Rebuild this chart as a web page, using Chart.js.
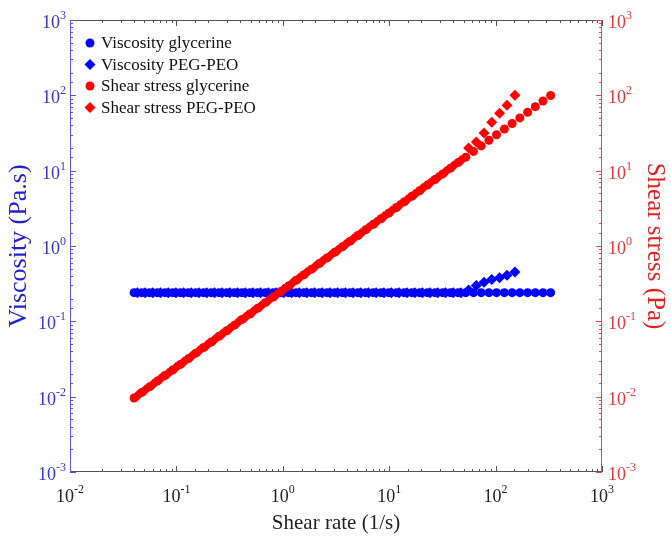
<!DOCTYPE html>
<html>
<head>
<meta charset="utf-8">
<script src="https://cdn.jsdelivr.net/npm/chart.js@4/dist/chart.umd.min.js"></script>
<style>
  html, body { margin: 0; padding: 0; background: #fff; }
</style>
</head>
<body>
<canvas id="chart" width="671" height="536"></canvas>
<script>
// glycerine: shear rate (1/s), viscosity (Pa.s), shear stress (Pa)
const shearRateGly = [0.0400, 0.0473, 0.0559, 0.0660, 0.0780, 0.0922, 0.109, 0.129, 0.152, 0.180,
  0.212, 0.251, 0.297, 0.351, 0.414, 0.490, 0.579, 0.684, 0.808, 0.955,
  1.13, 1.33, 1.58, 1.86, 2.20, 2.60, 3.07, 3.63, 4.29, 5.07,
  5.99, 7.08, 8.37, 9.89, 11.7, 13.8, 16.3, 19.3, 22.8, 26.9,
  31.8, 37.6, 44.4, 52.5, 62.0, 73.3, 86.6, 102, 121, 143,
  169, 200, 236, 279, 329];
const viscosityGly = [0.24, 0.24, 0.24, 0.24, 0.24, 0.24, 0.24, 0.24, 0.24, 0.24,
  0.24, 0.24, 0.24, 0.24, 0.24, 0.24, 0.24, 0.24, 0.24, 0.24,
  0.24, 0.24, 0.24, 0.24, 0.24, 0.24, 0.24, 0.24, 0.24, 0.24,
  0.24, 0.24, 0.24, 0.24, 0.24, 0.24, 0.24, 0.24, 0.24, 0.24,
  0.24, 0.24, 0.24, 0.24, 0.24, 0.24, 0.24, 0.24, 0.24, 0.24,
  0.24, 0.24, 0.24, 0.24, 0.24];
const stressGly = [0.0096, 0.0114, 0.0135, 0.0161, 0.0191, 0.0226, 0.0268, 0.0318, 0.0378, 0.0449,
  0.0532, 0.0632, 0.0750, 0.0890, 0.106, 0.125, 0.149, 0.177, 0.210, 0.249,
  0.295, 0.350, 0.416, 0.493, 0.585, 0.695, 0.824, 0.978, 1.16, 1.38,
  1.64, 1.94, 2.30, 2.73, 3.24, 3.85, 4.57, 5.42, 6.43, 7.64,
  9.06, 10.8, 12.8, 15.1, 18.0, 21.3, 25.3, 30.0, 35.7, 42.3,
  50.2, 59.6, 70.7, 84.0, 99.6];

// PEG-PEO
const shearRatePeg = [0.0430, 0.0508, 0.0600, 0.0709, 0.0838, 0.0990, 0.117, 0.138, 0.163, 0.193,
  0.228, 0.269, 0.318, 0.376, 0.444, 0.524, 0.619, 0.732, 0.864, 1.02,
  1.21, 1.43, 1.68, 1.99, 2.35, 2.78, 3.28, 3.88, 4.58, 5.41,
  6.39, 7.55, 8.92, 10.5, 12.4, 14.7, 17.4, 20.5, 24.2, 28.6,
  33.8, 40.0, 47.2, 55.8, 65.9, 77.9, 92.0, 109, 128, 152];
const viscosityPeg = [0.24, 0.24, 0.24, 0.24, 0.24, 0.24, 0.24, 0.24, 0.24, 0.24,
  0.24, 0.24, 0.24, 0.24, 0.24, 0.24, 0.24, 0.24, 0.24, 0.24,
  0.24, 0.24, 0.24, 0.24, 0.24, 0.24, 0.24, 0.24, 0.24, 0.24,
  0.24, 0.24, 0.24, 0.24, 0.24, 0.24, 0.24, 0.24, 0.24, 0.24,
  0.24, 0.24, 0.24, 0.26, 0.30, 0.33, 0.36, 0.38, 0.41, 0.45];
const stressPeg = [0.0103, 0.0123, 0.0145, 0.0173, 0.0205, 0.0243, 0.0288, 0.0342, 0.0406, 0.0481,
  0.0571, 0.0678, 0.0804, 0.0954, 0.113, 0.134, 0.159, 0.189, 0.224, 0.266,
  0.316, 0.375, 0.445, 0.528, 0.626, 0.743, 0.881, 1.05, 1.24, 1.47,
  1.75, 2.07, 2.46, 2.92, 3.46, 4.11, 4.87, 5.78, 6.86, 8.14,
  9.66, 11.5, 13.6, 20.0, 24.0, 31.6, 44.0, 58.0, 74.0, 100];

const xTickPowers = [-2, -1, 0, 1, 2, 3];
const yTickPowers = [-3, -2, -1, 0, 1, 2, 3];

const BLUE = "#0000ff";
const RED = "#ff0000";
const SERIF = '"Liberation Serif", "Times New Roman", serif';

const toPoints = (xs, ys) => xs.map((x, i) => ({ x: x, y: ys[i] }));

// draws 10^p with a raised exponent
function drawPow(ctx, p, x, y, align, color) {
  ctx.font = "18px " + SERIF;
  const wb = ctx.measureText("10").width;
  ctx.font = "12px " + SERIF;
  const exp = String(p);
  const we = ctx.measureText(exp).width;
  const w = wb + we;
  let sx = x;
  if (align === "center") sx = x - w / 2;
  if (align === "right") sx = x - w;
  ctx.fillStyle = color;
  ctx.textAlign = "left";
  ctx.textBaseline = "alphabetic";
  ctx.font = "18px " + SERIF;
  ctx.fillText("10", sx, y);
  ctx.font = "12px " + SERIF;
  ctx.fillText(exp, sx + wb, y - 9);
}

const isPow = (v) => Math.abs(Math.log10(v) - Math.round(Math.log10(v))) < 1e-6;

const framePlugin = {
  id: "frame",
  afterDraw(chart) {
    const ctx = chart.ctx;
    const { left, right, top, bottom } = chart.chartArea;
    const sx = chart.scales.x, sy = chart.scales.y, sy2 = chart.scales.y2;
    ctx.save();
    ctx.lineWidth = 1;

    // top and bottom lines + ticks
    ctx.strokeStyle = "#555";
    ctx.beginPath();
    ctx.moveTo(left, top + 0.5); ctx.lineTo(right, top + 0.5);
    ctx.moveTo(left, bottom - 0.5); ctx.lineTo(right, bottom - 0.5);
    sx.ticks.forEach((t) => {
      const px = Math.round(sx.getPixelForValue(t.value)) + 0.5;
      const len = isPow(t.value) ? 6 : 3;
      ctx.moveTo(px, bottom); ctx.lineTo(px, bottom - len);
      ctx.moveTo(px, top); ctx.lineTo(px, top + len);
    });
    ctx.stroke();

    // left axis
    ctx.strokeStyle = "#5555e8";
    ctx.beginPath();
    ctx.moveTo(left + 0.5, top); ctx.lineTo(left + 0.5, bottom);
    sy.ticks.forEach((t) => {
      const py = Math.round(sy.getPixelForValue(t.value)) + 0.5;
      const len = isPow(t.value) ? 6 : 3;
      ctx.moveTo(left, py); ctx.lineTo(left + len, py);
    });
    ctx.stroke();

    // right axis
    ctx.strokeStyle = "#ee4444";
    ctx.beginPath();
    ctx.moveTo(right - 0.5, top); ctx.lineTo(right - 0.5, bottom);
    sy2.ticks.forEach((t) => {
      const py = Math.round(sy2.getPixelForValue(t.value)) + 0.5;
      const len = isPow(t.value) ? 6 : 3;
      ctx.moveTo(right, py); ctx.lineTo(right - len, py);
    });
    ctx.stroke();

    // tick labels
    xTickPowers.forEach((p) => drawPow(ctx, p, sx.getPixelForValue(Math.pow(10, p)), bottom + 30, "center", "#222"));
    yTickPowers.forEach((p) => drawPow(ctx, p, left - 4, sy.getPixelForValue(Math.pow(10, p)) + 8, "right", "#3535d5"));
    yTickPowers.forEach((p) => drawPow(ctx, p, right + 6, sy2.getPixelForValue(Math.pow(10, p)) + 8, "left", "#e53535"));

    // legend in the top left corner of the plot
    ctx.font = "17px " + SERIF;
    ctx.textBaseline = "middle";
    ctx.textAlign = "left";
    chart.data.datasets.forEach((ds, i) => {
      const ly = 43 + i * 21.5;
      ctx.fillStyle = ds.backgroundColor;
      ctx.strokeStyle = ds.backgroundColor;
      Chart.helpers.drawPoint(ctx, { pointStyle: ds.pointStyle, radius: ds.pointStyle === "circle" ? 4.5 : 5.5, borderWidth: 0, rotation: 0 }, 90, ly);
      ctx.fillStyle = "#111";
      ctx.fillText(ds.label, 101, ly + 1);
    });
    ctx.restore();
  },
};

new Chart(document.getElementById("chart"), {
  type: "scatter",
  data: {
    datasets: [
      { label: "Viscosity glycerine", data: toPoints(shearRateGly, viscosityGly), yAxisID: "y",
        pointStyle: "circle", pointRadius: 4.5, backgroundColor: BLUE, borderColor: BLUE, borderWidth: 0, order: 4 },
      { label: "Viscosity PEG-PEO", data: toPoints(shearRatePeg, viscosityPeg), yAxisID: "y",
        pointStyle: "rectRot", pointRadius: 5.5, backgroundColor: BLUE, borderColor: BLUE, borderWidth: 0, order: 3 },
      { label: "Shear stress glycerine", data: toPoints(shearRateGly, stressGly), yAxisID: "y2",
        pointStyle: "circle", pointRadius: 4.5, backgroundColor: RED, borderColor: RED, borderWidth: 0, order: 2 },
      { label: "Shear stress PEG-PEO", data: toPoints(shearRatePeg, stressPeg), yAxisID: "y2",
        pointStyle: "rectRot", pointRadius: 5.5, backgroundColor: RED, borderColor: RED, borderWidth: 0, order: 1 },
    ],
  },
  options: {
    responsive: false,
    animation: false,
    layout: { padding: { top: 20, right: 0, left: 0, bottom: 0 } },
    plugins: { legend: { display: false }, tooltip: { enabled: false } },
    scales: {
      x: {
        type: "logarithmic", position: "bottom", min: 0.01, max: 1000,
        grid: { display: false }, border: { display: false },
        ticks: { display: false, autoSkip: false },
        title: { display: true, text: "Shear rate (1/s)", color: "#222",
          font: { family: SERIF, size: 21 }, padding: { top: 3, bottom: 0 } },
        afterFit: (scale) => { scale.height = 64; },
      },
      y: {
        type: "logarithmic", position: "left", min: 0.001, max: 1000,
        grid: { display: false }, border: { display: false },
        ticks: { display: false, autoSkip: false },
        title: { display: true, text: "Viscosity (Pa.s)", color: "#2222c8",
          font: { family: SERIF, size: 26 }, padding: { top: 4, bottom: 0 } },
        afterFit: (scale) => { scale.width = 70; },
      },
      y2: {
        type: "logarithmic", position: "right", min: 0.001, max: 1000,
        grid: { display: false }, border: { display: false },
        ticks: { display: false, autoSkip: false },
        title: { display: true, text: "Shear stress (Pa)", color: "#e02020",
          font: { family: SERIF, size: 25 }, padding: { top: 1, bottom: 0 } },
        afterFit: (scale) => { scale.width = 69; },
      },
    },
  },
  plugins: [framePlugin],
});
</script>
</body>
</html>
